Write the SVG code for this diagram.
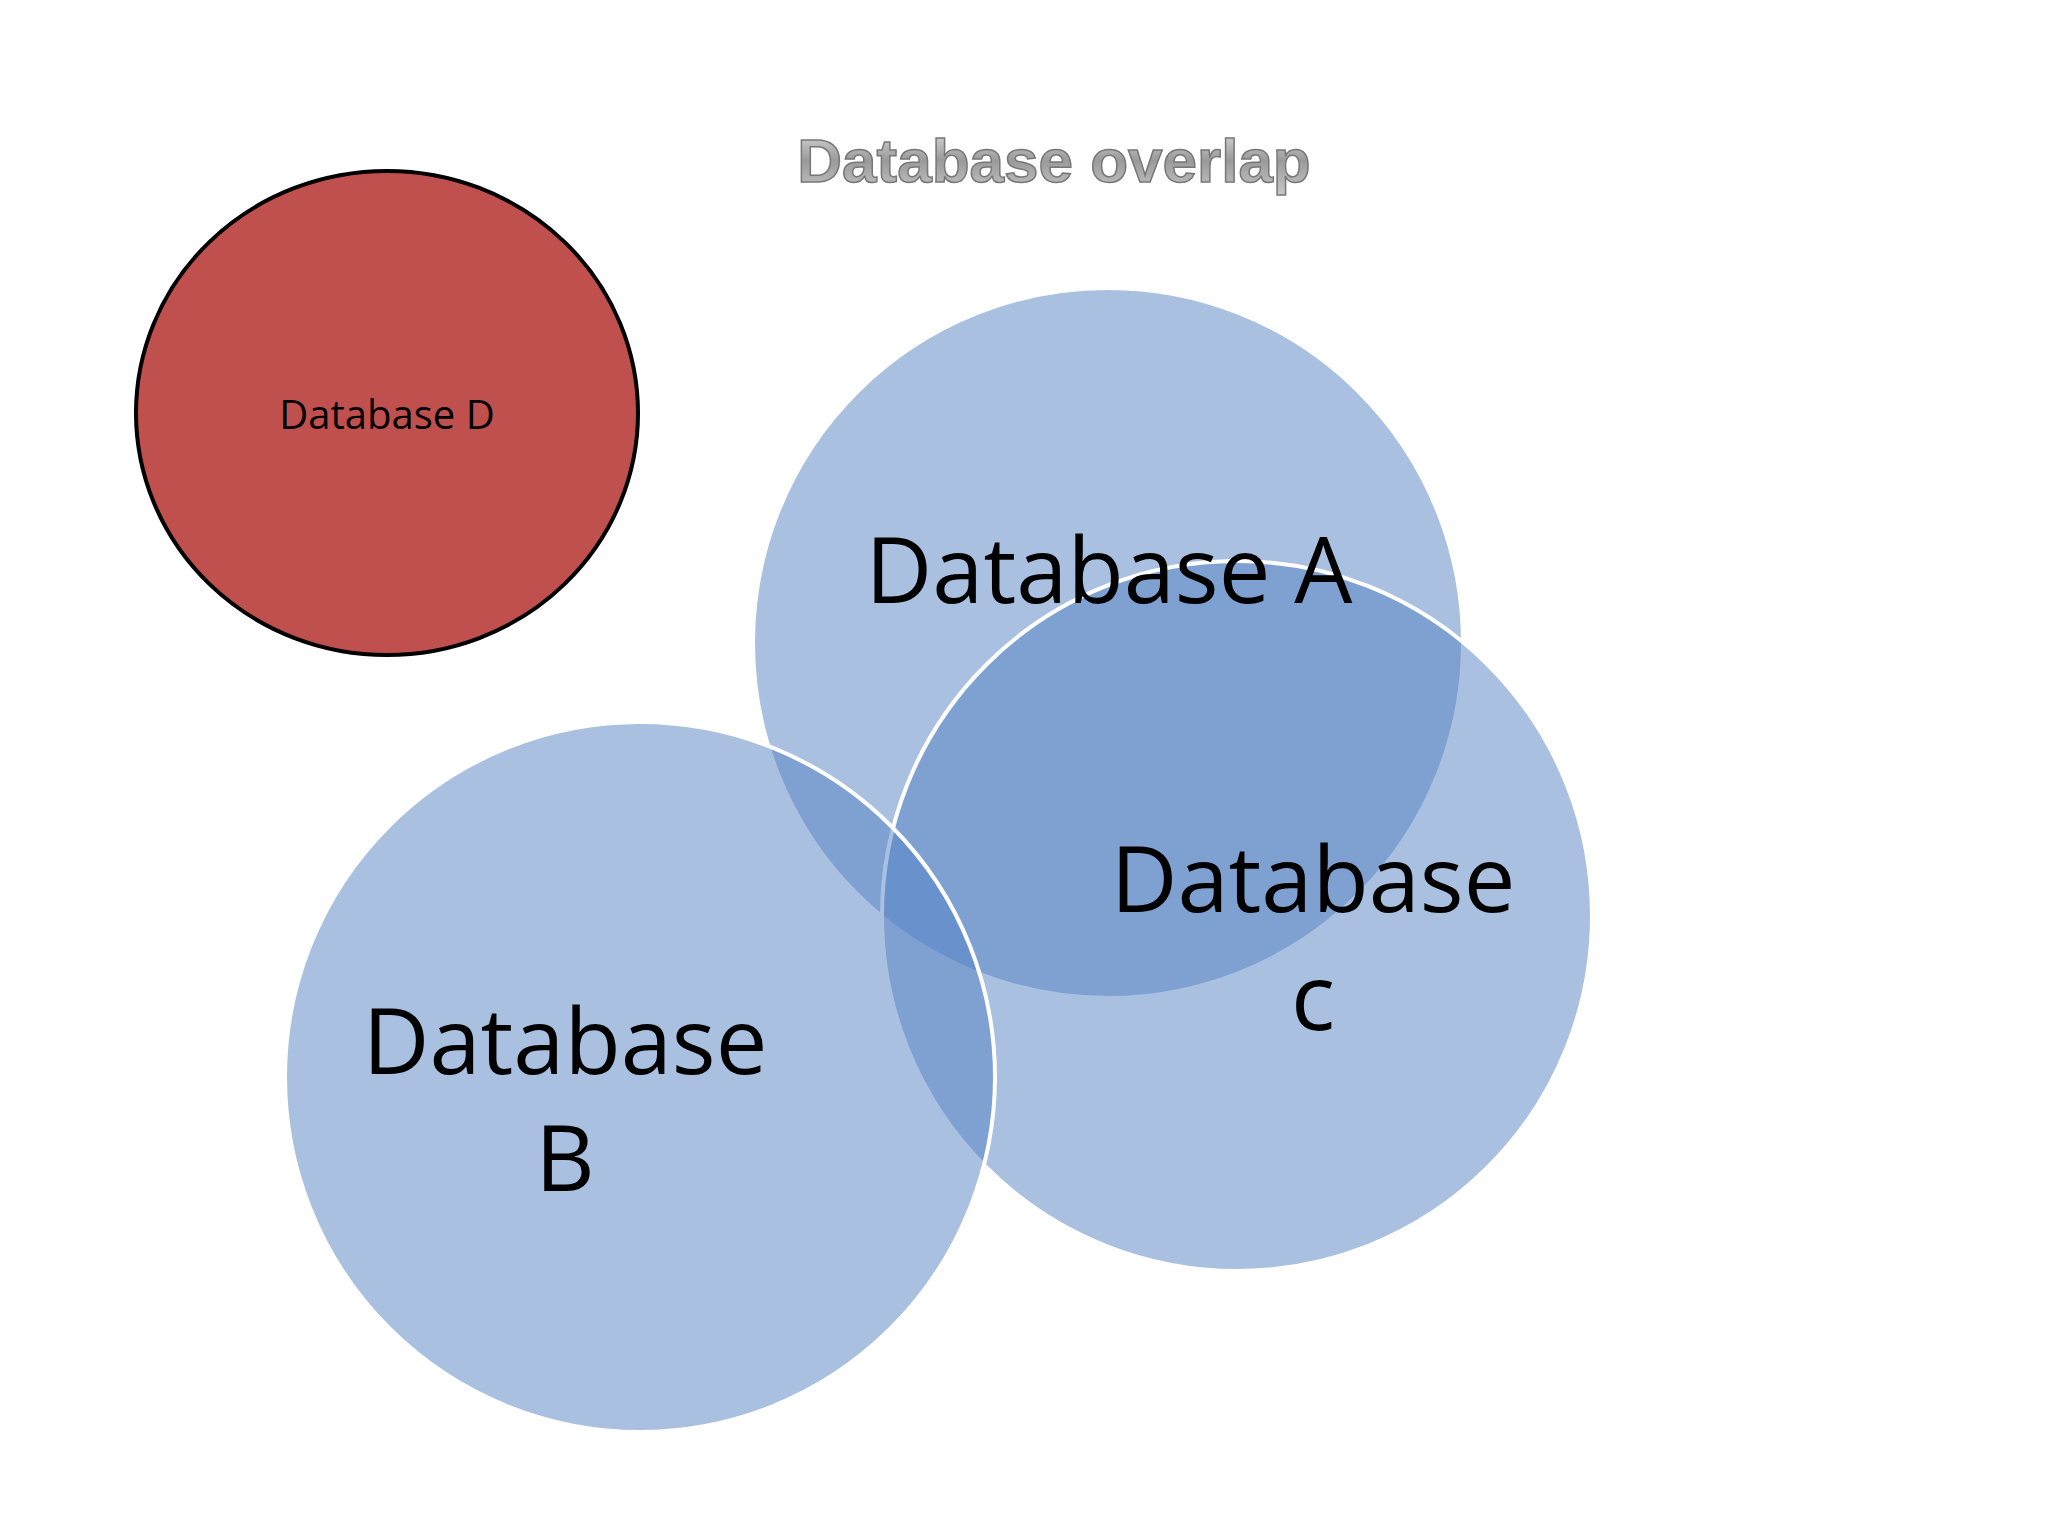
<svg xmlns="http://www.w3.org/2000/svg" width="2048" height="1536" viewBox="0 0 2048 1536">
<defs>
<style>
.c{fill:#5381c3;fill-opacity:0.5;stroke:#fff;stroke-width:4}
.big{font-family:"Open Sans","Noto Sans",sans-serif;font-size:92px;fill:#000;text-anchor:middle}
</style>
<linearGradient id="tg" x1="0" y1="0" x2="0" y2="1">
<stop offset="0" stop-color="#e0e0e0"/><stop offset="0.5" stop-color="#9a9a9a"/><stop offset="1" stop-color="#c8c8c8"/>
</linearGradient>
</defs>
<rect width="2048" height="1536" fill="#fff"/>
<text x="1054" y="182" font-family="Liberation Sans,Arial,sans-serif" font-weight="bold" font-size="62" text-anchor="middle" fill="url(#tg)" stroke="#777" stroke-width="1.5">Database overlap</text>
<g id="nodeD"><ellipse cx="387" cy="413" rx="251" ry="242" fill="#c0504d" stroke="#000" stroke-width="4"/>
<text x="387" y="429" font-family="Open Sans,Noto Sans,sans-serif" font-size="40" text-anchor="middle">Database D</text></g>
<g id="nodeA"><circle class="c" cx="1108" cy="643" r="355" stroke="none"/></g>
<g id="nodeC"><circle class="c" cx="1237" cy="916" r="355"/></g>
<g id="nodeB"><circle class="c" cx="640" cy="1077" r="355"/></g>
<g id="labels">
<text class="big" x="1109" y="603">Database A</text>
<text class="big" x="565" y="1074">Database</text>
<text class="big" x="565" y="1191">B</text>
<text class="big" x="1313" y="912">Database</text>
<text class="big" x="1313" y="1030">c</text>
</g>
<g id="connectors"/>
</svg>
